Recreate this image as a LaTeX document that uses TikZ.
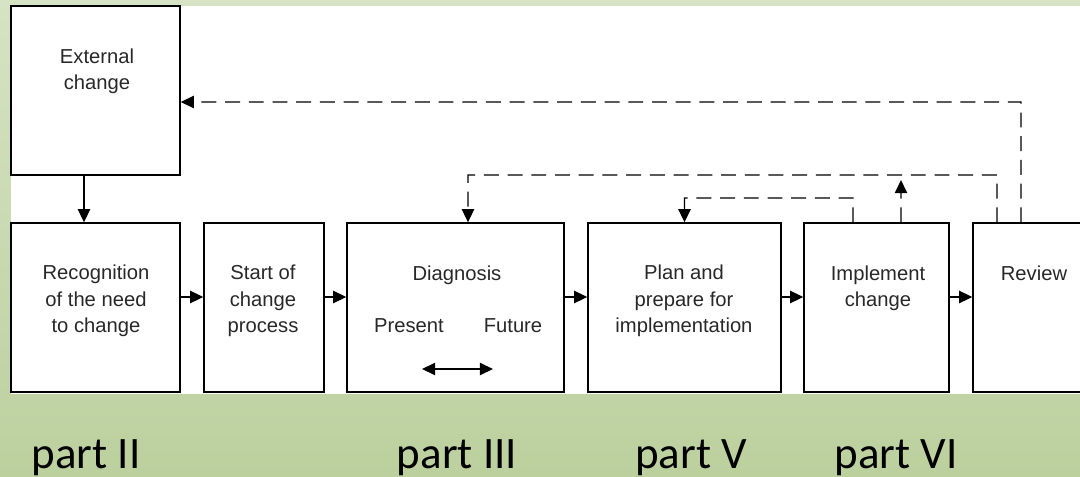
\documentclass[tikz,border=0pt]{standalone}
\usepackage{fontspec}
\setmainfont{Liberation Sans}
\newfontfamily\partfont{Carlito}
\usetikzlibrary{arrows.meta,calc}

\definecolor{bgtop}{RGB}{214,227,196}
\definecolor{bgbot}{RGB}{188,208,158}
\definecolor{txtgray}{RGB}{40,40,40}

\begin{document}
\begin{tikzpicture}[x=0.02cm, y=-0.02cm,
    >={Triangle[length=7.5pt,width=7pt]},
    box/.style={draw, line width=0.8pt, fill=white,
      minimum height=3.38cm, inner sep=0pt},
    txt/.style={align=center, text=txtgray, inner sep=0pt,
      font=\fontsize{11.5}{15}\selectfont},
    flow/.style={->, line width=0.8pt},
    fb/.style={->, line width=0.8pt, dash pattern=on 8.5pt off 5pt},
    partlbl/.style={anchor=base, font=\partfont\fontsize{25.6}{30}\selectfont}]
    \useasboundingbox (0,0) rectangle (1080,477);
    \clip (0,0) rectangle (1080,477);
    % background
    \shade[top color=bgtop, bottom color=bgbot] (0,0) rectangle (1080,477);
    \fill[white] (11,6) rectangle (1080,394);
    % boxes
    \node[box, minimum width=3.38cm] (ext)    at (95.5,90.5)   {};
    \node[box, minimum width=3.38cm] (recog)  at (95.5,307.5)  {};
    \node[box, minimum width=2.40cm] (start)  at (264,307.5)   {};
    \node[box, minimum width=4.34cm] (diag)   at (455.5,307.5) {};
    \node[box, minimum width=3.86cm] (plan)   at (684.5,307.5) {};
    \node[box, minimum width=2.90cm] (impl)   at (876.5,307.5) {};
    \node[box, minimum width=2.54cm] (review) at (1036.5,307.5) {};
    % texts
    \node[txt] (exttxt)    at (97,71)   {External\\change};
    \node[txt] (recogtxt)  at (96,301)  {Recognition\\of the need\\to change};
    \node[txt] (starttxt)  at (263,301) {Start of\\change\\process};
    \node[txt] (diagtxt)   at (457,275) {Diagnosis};
    \node[txt] (prestxt)   at (409,326) {Present};
    \node[txt] (futtxt)    at (513,326) {Future};
    \node[txt] (plantxt)   at (684,301) {Plan and\\prepare for\\implementation};
    \node[txt] (impltxt)   at (878,288) {Implement\\change};
    \node[txt] (reviewtxt) at (1034,273) {Review};
    % main flow
    \draw[flow] ([xshift=-0.23cm]ext.south) -- ([xshift=-0.23cm]recog.north);
    \foreach \a/\b in {recog/start, start/diag, diag/plan, plan/impl, impl/review}
      \draw[flow] ([yshift=0.21cm]\a.east) -- ([yshift=0.21cm]\b.west);
    \coordinate (pres) at (422,369);
    \coordinate (fut)  at (493,369);
    \draw[<->, line width=0.8pt] (pres) -- (fut);
    % feedback loops
    \coordinate (fbext)  at (1021,102);
    \coordinate (fbdiag) at (997,175);
    \coordinate (fbplan) at (853,198);
    \coordinate (fbup)   at (901,180);
    \draw[fb] ([xshift=-0.31cm]review.north) -- (fbext)
      -- ([yshift=-0.23cm]ext.east);
    \draw[fb] ([xshift=-0.79cm]review.north) -- (fbdiag)
      -| ([xshift=0.25cm]diag.north);
    \draw[fb] ([xshift=-0.47cm]impl.north) -- (fbplan) -| (plan.north);
    \draw[fb] ([xshift=0.49cm]impl.north) -- (fbup);
    % parts
    \node[partlbl] (p2) at (86,468)  {part II};
    \node[partlbl] (p3) at (457,468) {part III};
    \node[partlbl] (p5) at (691,468) {part V};
    \node[partlbl] (p6) at (896,468) {part VI};
\end{tikzpicture}
\end{document}
